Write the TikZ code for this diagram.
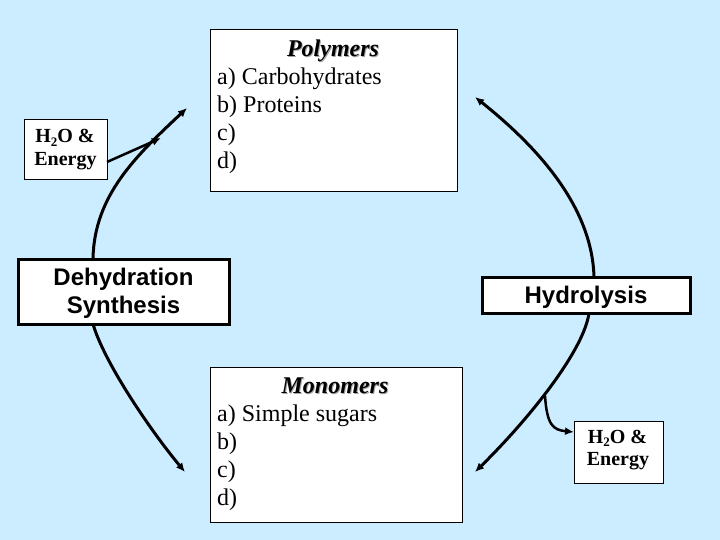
\documentclass[tikz,border=0pt]{standalone}
\usepackage{fontspec}
\setmainfont{Liberation Serif}
\newfontfamily\arialf{Liberation Sans}
\usetikzlibrary{arrows.meta}
\definecolor{bg}{RGB}{204,236,255}
\newcommand{\twosub}{\raisebox{-0.35ex}{\fontsize{13}{13}\selectfont 2}}
\begin{document}
\begin{tikzpicture}[x=1pt,y=-1pt,
  box/.style={draw=black, fill=white, line width=1pt, inner sep=0pt, outer sep=0pt},
  thickbox/.style={box, line width=3pt},
  listtxt/.style={inner sep=0pt, anchor=base west, font=\fontsize{24}{28}\selectfont},
  titletxt/.style={inner sep=0pt, anchor=base, font=\fontsize{24}{28}\selectfont\bfseries\itshape},
  shadowtxt/.style={titletxt, text=black!35},
  smalltxt/.style={inner sep=0pt, anchor=base, font=\fontsize{20}{23}\selectfont\bfseries},
  sanstxt/.style={inner sep=0pt, anchor=base, font=\arialf\bfseries\fontsize{24}{28}\selectfont},
  conn/.style={line width=3pt, -{Latex[length=9pt,width=8pt]}},
  thinconn/.style={line width=2.5pt, -{Latex[length=9pt,width=8pt]}}
]
\fill[bg] (0,0) rectangle (720,540);
\useasboundingbox (0,0) rectangle (720,540);

% boxes
\node[box, minimum width=247pt, minimum height=162pt] (poly) at (333.5,111) {};
\node[box, minimum width=252pt, minimum height=155pt] (mono) at (336,444.5) {};
\node[box, minimum width=83pt, minimum height=60pt] (h2oL) at (65.5,150) {};
\node[box, minimum width=89pt, minimum height=62pt] (h2oR) at (618.5,452) {};
\node[thickbox, minimum width=211pt, minimum height=65pt] (dehyd) at (123.5,291.5) {};
\node[thickbox, minimum width=208pt, minimum height=36pt] (hydro) at (586,295) {};

% polymers text
\node[shadowtxt] (polyS) at (334,58) {Polymers};
\node[titletxt] (polyT) at (333,57) {Polymers};
\node[listtxt] (pa) at (217,85) {a) Carbohydrates};
\node[listtxt] (pb) at (217,113) {b) Proteins};
\node[listtxt] (pc) at (217,141) {c)};
\node[listtxt] (pd) at (217,169) {d)};

% monomers text
\node[shadowtxt] (monoS) at (336,394) {Monomers};
\node[titletxt] (monoT) at (335,393) {Monomers};
\node[listtxt] (ma) at (217,421) {a) Simple sugars};
\node[listtxt] (mb) at (217,449) {b)};
\node[listtxt] (mc) at (217,477) {c)};
\node[listtxt] (md) at (217,505) {d)};

% H2O & Energy
\node[smalltxt] (hl1) at (65,143) {H\twosub O \&};
\node[smalltxt] (hl2) at (65.5,166) {Energy};
\node[smalltxt] (hr1) at (617.5,443) {H\twosub O \&};
\node[smalltxt] (hr2) at (618,465) {Energy};

% process labels
\node[sanstxt] (dh1) at (123.5,285) {Dehydration};
\node[sanstxt] (dh2) at (123.5,313) {Synthesis};
\node[sanstxt] (hy1) at (586,303) {Hydrolysis};

% free ends
\coordinate (ulEnd) at (187,108);
\coordinate (ulMeet) at (161,138);
\coordinate (llEnd) at (185,472);
\coordinate (urEnd) at (475,97);
\coordinate (lrEnd) at (475,472);
\coordinate (lrBranch) at (545,396);

% connectors
\draw[conn] ([xshift=75pt]dehyd.north west) .. controls (94,195) and (137,155) .. (ulEnd);
\draw[thinconn] ([yshift=-12pt]h2oL.east) -- (ulMeet);
\draw[conn] ([xshift=75pt]dehyd.south west) .. controls (104,362) and (150,430) .. (llEnd);
\draw[conn] ([xshift=112pt]hydro.north west) .. controls (592,205) and (535,145) .. (urEnd);
\draw[conn] ([xshift=107pt]hydro.south west) .. controls (584,350) and (530,418) .. (lrEnd);
\draw[thinconn] (lrBranch) .. controls (547,425) and (553,430) .. ([yshift=20pt]h2oR.west);
\end{tikzpicture}
\end{document}
